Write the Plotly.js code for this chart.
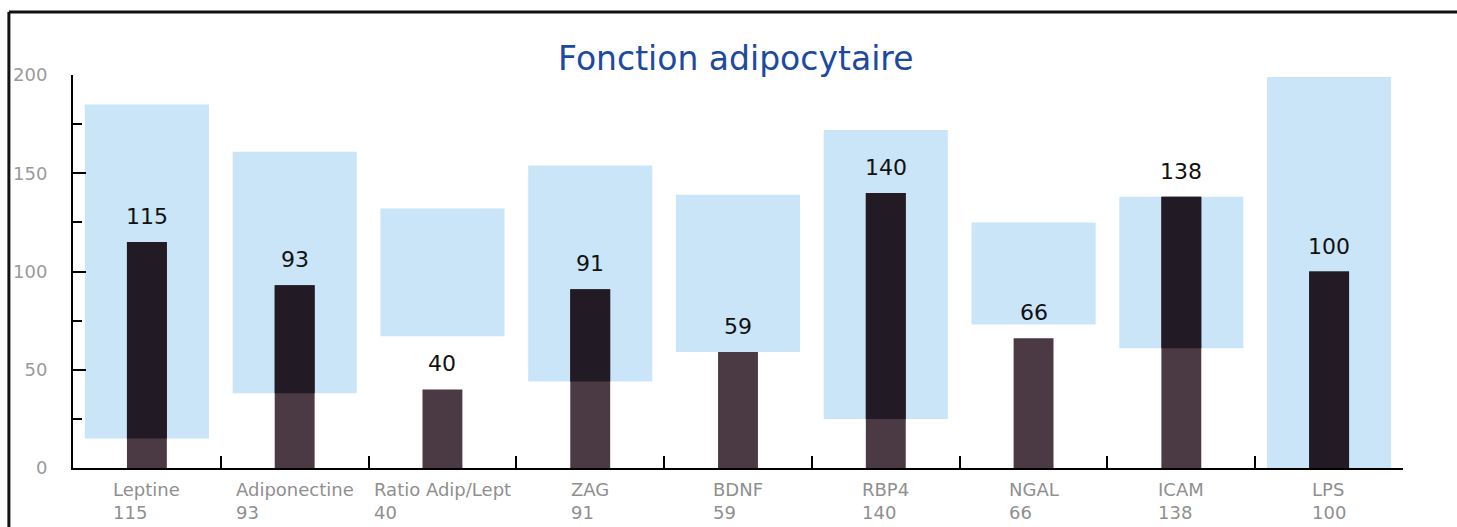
<!DOCTYPE html>
<html>
<head>
<meta charset="utf-8">
<script src="https://cdn.plot.ly/plotly-3.0.1.min.js"></script>
<style>html,body{margin:0;padding:0;background:#fff;}</style>
</head>
<body>
<div id="chart" style="width:1457px;height:527px;"></div>
<script>
// Data
const categories = ["Leptine", "Adiponectine", "Ratio Adip/Lept", "ZAG", "BDNF", "RBP4", "NGAL", "ICAM", "LPS"];
const values     = [115, 93, 40, 91, 59, 140, 66, 138, 100];
const rangeLow   = [15, 38, 67, 44, 59, 25, 73, 61, 0];
const rangeHigh  = [185, 161, 132, 154, 139, 172, 125, 138, 199];
const yTickVals  = [0, 25, 50, 75, 100, 125, 150, 175, 200];
const yTickText  = ["0", "", "50", "", "100", "", "150", "", "200"];
const yMajorVals = [0, 50, 100, 150, 200];

// Derived: part of each value bar lying inside its reference range
const overlapBase = categories.map((c, i) => rangeLow[i]);
const overlapLen  = categories.map((c, i) => Math.max(0, Math.min(values[i], rangeHigh[i]) - rangeLow[i]));

const traces = [
  {
    type: "bar", x: categories, base: rangeLow,
    y: categories.map((c, i) => rangeHigh[i] - rangeLow[i]),
    width: 0.84, marker: {color: "#cae5f8"}, hoverinfo: "skip"
  },
  {
    type: "bar", x: categories, y: values,
    width: 0.27, marker: {color: "#4b3a43"}, hoverinfo: "skip"
  },
  {
    type: "bar", x: categories, base: overlapBase, y: overlapLen,
    width: 0.27, marker: {color: "#221a24"}, hoverinfo: "skip"
  },
  {
    type: "scatter", x: categories, y: values, yaxis: "y2", mode: "none", hoverinfo: "skip"
  }
];

const annotations = [];
categories.forEach((c, i) => {
  annotations.push({
    x: c, y: values[i], xref: "x", yref: "y",
    text: String(values[i]), showarrow: false,
    xanchor: "center", yanchor: "bottom", yshift: 11,
    font: {family: "DejaVu Sans", size: 22, color: "#111111"}
  });
  annotations.push({
    x: c, y: 0, xref: "x", yref: "y",
    text: c + "<br>" + values[i], showarrow: false,
    xanchor: "center", yanchor: "top", yshift: -9, align: "left",
    font: {family: "DejaVu Sans", size: 18, color: "#8f8f8f"}
  });
});

const layout = {
  width: 1457, height: 527,
  margin: {l: 73, r: 54, t: 75, b: 59},
  paper_bgcolor: "#ffffff", plot_bgcolor: "#ffffff",
  showlegend: false, barmode: "overlay",
  title: {
    text: "Fonction adipocytaire",
    font: {family: "DejaVu Sans", size: 33, color: "#1d4aa0"},
    x: 0.505, xref: "container", xanchor: "center",
    y: 0.889, yref: "container", yanchor: "middle"
  },
  xaxis: {
    type: "category", range: [-0.5, 8.5],
    showticklabels: false, showgrid: false, zeroline: false,
    showline: true, linecolor: "#000000", linewidth: 2,
    ticks: "inside", tickson: "boundaries", ticklen: 12, tickwidth: 2, tickcolor: "#000000"
  },
  yaxis: {
    range: [0, 200], tickmode: "array", tickvals: yTickVals, ticktext: yTickText,
    showline: true, linecolor: "#000000", linewidth: 2,
    ticks: "inside", ticklen: 9, tickwidth: 2, tickcolor: "#000000",
    showgrid: false, zeroline: false,
    ticklabelstandoff: 20,
    tickfont: {family: "DejaVu Sans", size: 18, color: "#9a9a9a"}
  },
  yaxis2: {
    range: [0, 200], overlaying: "y", side: "left", anchor: "x",
    tickmode: "array", tickvals: yMajorVals, showticklabels: false,
    ticks: "inside", ticklen: 13, tickwidth: 2, tickcolor: "#000000",
    showline: false, showgrid: false, zeroline: false
  },
  annotations: annotations,
  shapes: [
    {type: "line", xref: "paper", yref: "paper", x0: -0.0482, x1: -0.0482, y0: -0.2, y1: 1.16,
     line: {color: "#111111", width: 3}},
    {type: "line", xref: "paper", yref: "paper", x0: -0.0482, x1: 1.05, y0: 1.16, y1: 1.16,
     line: {color: "#111111", width: 3}}
  ]
};

Plotly.newPlot("chart", traces, layout, {displayModeBar: false, staticPlot: true});
</script>
</body>
</html>
